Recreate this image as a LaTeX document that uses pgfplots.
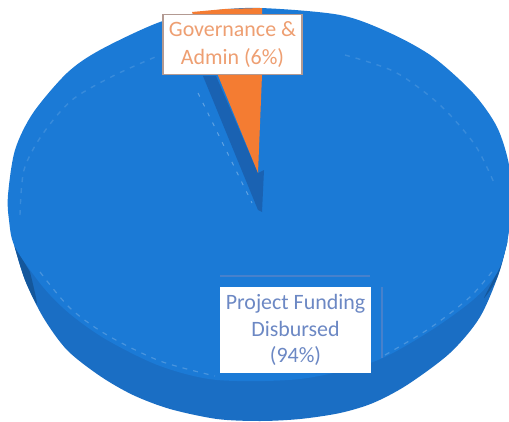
\documentclass[border=0pt]{standalone}
\usepackage{fontspec}
\setmainfont{Carlito}
\usepackage{pgfplots}
\pgfplotsset{compat=1.18}
\definecolor{pietop}{HTML}{1B7AD6}
\definecolor{piewall}{HTML}{1A6EC4}
\definecolor{pieshade}{HTML}{14579C}
\definecolor{pieslot}{HTML}{1A62B2}
\definecolor{pieorange}{HTML}{F47C32}
\definecolor{labelorange}{HTML}{EE9F72}
\definecolor{labelblue}{HTML}{6C88C4}
\definecolor{labelframe}{HTML}{B39A92}
\begin{document}
\begin{tikzpicture}
\begin{axis}[
  width=509bp, height=422bp, scale only axis,
  xmin=0, xmax=509, ymin=0, ymax=422, y dir=reverse,
  axis lines=none, clip=true,
]
% white sheet behind the disc
\addplot[fill=white, draw=none] coordinates {(0,0) (509,0) (509,422) (0,422)} -- cycle;
% side wall of the disc
\addplot[fill=piewall, draw=none, smooth] coordinates {
  (10,205) (10,215) (15,247) (25,280) (43,317) (67,350) (100,376) (133,395) (170,409)
  (217,419) (260,421) (300,419) (340,413) (373,403) (407,385) (450,353)
  (480,317) (500,270) (509,230) (511,205)} -- cycle;
% darker ends of the wall where it turns away
\addplot[fill=pieshade, draw=none, smooth] coordinates {
  (14,245) (25,280) (37,304) (30,272)} -- cycle;
\addplot[fill=pieshade, draw=none, smooth] coordinates {
  (506,245) (497,272) (484,298) (497,278) (508,240)} -- cycle;
% top face, project funding share
\addplot[fill=pietop, draw=none, smooth cycle] coordinates {
  (8,195) (15,150) (33,113) (67,73) (100,50) (160,22) (210,11) (260,8) (340,15)
  (390,33) (433,57) (473,93) (497,127) (509,165) (511,205) (507,243) (497,273)
  (473,300) (427,333) (373,362) (300,379) (217,380) (160,366) (107,340)
  (70,314) (43,287) (15,247) (9,220)};
% recess left behind the lifted slice
\addplot[fill=pieslot, draw=none] coordinates {
  (203,76) (216,76) (258,173) (264,170) (262,212) (258,210)} -- cycle;
% governance and admin slice
\addplot[fill=pieorange, draw=none] coordinates {
  (192,12) (225,9) (262,8) (262,75) (258,173)} -- cycle;
% faint dashes around the rim of the top face
\addplot[white, opacity=.13, line width=1.4pt, dash pattern=on 5pt off 6pt, smooth] coordinates {
  (20,215) (24,170) (42,135) (72,100) (115,75) (160,55)};
\addplot[white, opacity=.13, line width=1.4pt, dash pattern=on 5pt off 6pt, smooth] coordinates {
  (345,55) (395,72) (440,105) (475,145) (495,185)};
\addplot[white, opacity=.2, line width=1.2pt, dash pattern=on 5pt off 6pt, smooth] coordinates {
  (40,272) (70,308) (107,335) (160,361) (215,376)};
\addplot[white, opacity=.2, line width=1.2pt, dash pattern=on 5pt off 6pt, smooth] coordinates {
  (385,355) (430,328) (470,297) (495,268)};
\addplot[white, opacity=.3, line width=1pt, dash pattern=on 4pt off 7pt] coordinates {
  (198,93) (252,203)};
% faint frame offset from the lower label
\addplot[draw=labelblue, opacity=.55, line width=1.2pt] coordinates {
  (220,276) (370,276)};
\addplot[draw=labelblue, opacity=.55, line width=1.2pt] coordinates {
  (382,287) (382,358)};
\node[fill=white, draw=labelframe, line width=1.8pt, text=labelorange,
  align=center, font=\fontsize{22}{28}\selectfont, minimum width=139bp, minimum height=60bp,
  inner sep=0pt] at (axis cs:232.5,44.5) {Governance \&\\Admin (6\%)};
\node[fill=white, text=labelblue, align=center, font=\fontsize{22}{27}\selectfont,
  minimum width=151bp, minimum height=86bp, inner sep=0pt]
  at (axis cs:295.5,330) {Project Funding\\Disbursed\\(94\%)};
\end{axis}
\end{tikzpicture}
\end{document}
